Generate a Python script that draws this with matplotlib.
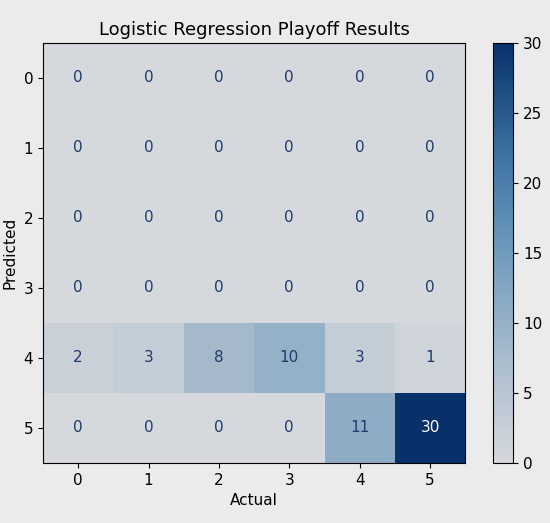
import matplotlib.pyplot as plt
import numpy as np
from matplotlib.colors import LinearSegmentedColormap

labels = [0, 1, 2, 3, 4, 5]
row4 = [2, 3, 8, 10, 3, 1]
row5 = [0, 0, 0, 0, 11, 30]
cm = np.array([[0] * 6] * 4 + [row4, row5])

# Blues, but washed out like the reference
cmap = LinearSegmentedColormap.from_list(
    "washed", ["#d5d8dd", "#a9bccd", "#6f9bbd", "#3a6f9f", "#08306b"])

fig = plt.figure(figsize=(5.5, 5.23), dpi=100, facecolor="#ebebeb")
ax = fig.add_axes([0.078, 0.115, 0.768, 0.803])
cax = fig.add_axes([0.897, 0.115, 0.036, 0.803])

im = ax.imshow(cm, cmap=cmap, vmin=0, vmax=30, aspect="auto")
for i in range(6):
    for j in range(6):
        v = cm[i, j]
        ax.text(j, i, str(v), ha="center", va="center", fontsize=11,
                color="white" if v > 20 else "#1f3b6b")

ax.set_xticks(range(6), labels)
ax.set_yticks(range(6), labels)
ax.tick_params(labelsize=11)
ax.set_xlabel("Actual", fontsize=11)
ax.set_ylabel("Predicted", fontsize=11)
ax.set_title("Logistic Regression Playoff Results", fontsize=13)

cb = fig.colorbar(im, cax=cax)
cb.set_ticks([0, 5, 10, 15, 20, 25, 30])
cb.ax.tick_params(labelsize=11)
cb.outline.set_linewidth(0.8)

fig.savefig("out.png", dpi=100, facecolor=fig.get_facecolor())
